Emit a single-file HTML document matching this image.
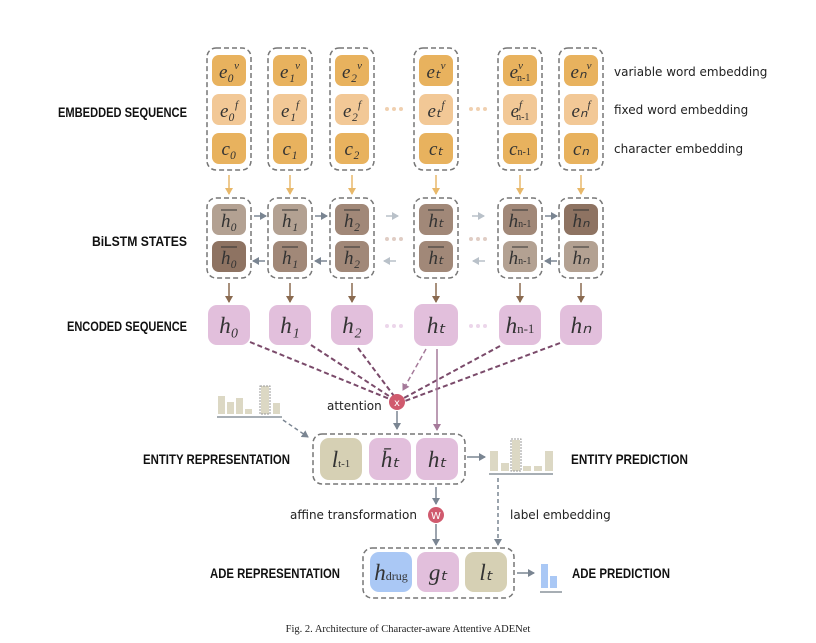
<!DOCTYPE html><html><head><style>body{margin:0;background:#fff}svg{display:block}
.lb{font-family:"Liberation Sans Narrow","Liberation Sans",sans-serif;font-weight:bold;font-size:14px;fill:#111}
.m{font-family:"Liberation Serif",serif;font-style:italic;font-size:19px;fill:#333}
.s{font-family:"DejaVu Sans","Liberation Sans",sans-serif;font-size:12px;fill:#222}
</style></head><body>
<svg width="816" height="643" viewBox="0 0 816 643" xmlns="http://www.w3.org/2000/svg">
<defs>
<marker id="ay" markerWidth="8" markerHeight="8" refX="6" refY="4" orient="auto" markerUnits="userSpaceOnUse"><path d="M0,0L7,4L0,8z" fill="#e8b86a"/></marker>
<marker id="ab" markerWidth="8" markerHeight="8" refX="6" refY="4" orient="auto" markerUnits="userSpaceOnUse"><path d="M0,0L7,4L0,8z" fill="#8a6a50"/></marker>
<marker id="ag" markerWidth="8" markerHeight="8" refX="6" refY="4" orient="auto" markerUnits="userSpaceOnUse"><path d="M0,0L7,4L0,8z" fill="#7a8592"/></marker>
<marker id="al" markerWidth="8" markerHeight="8" refX="6" refY="4" orient="auto" markerUnits="userSpaceOnUse"><path d="M0,0L7,4L0,8z" fill="#b9c1c9"/></marker>
<marker id="ap" markerWidth="8" markerHeight="8" refX="6" refY="4" orient="auto" markerUnits="userSpaceOnUse"><path d="M0,0L7,4L0,8z" fill="#a57a9a"/></marker>
</defs>
<g class="lb">
<text x="58" y="117" textLength="129" lengthAdjust="spacingAndGlyphs">EMBEDDED SEQUENCE</text>
<text x="92" y="246" textLength="95" lengthAdjust="spacingAndGlyphs">BiLSTM STATES</text>
<text x="67" y="331" textLength="120" lengthAdjust="spacingAndGlyphs">ENCODED SEQUENCE</text>
<text x="143" y="464" textLength="147" lengthAdjust="spacingAndGlyphs">ENTITY REPRESENTATION</text>
<text x="210" y="578" textLength="130" lengthAdjust="spacingAndGlyphs">ADE REPRESENTATION</text>
<text x="571" y="464" textLength="117" lengthAdjust="spacingAndGlyphs">ENTITY PREDICTION</text>
<text x="572" y="578" textLength="98" lengthAdjust="spacingAndGlyphs">ADE PREDICTION</text>
</g>
<g class="s"><text x="614" y="76">variable word embedding</text><text x="614" y="114">fixed word embedding</text><text x="614" y="153">character embedding</text></g>

<g fill="none" stroke="#777" stroke-width="1.5" stroke-dasharray="5,3">
<rect x="207" y="48" width="44" height="122" rx="9"/><rect x="268" y="48" width="44" height="122" rx="9"/><rect x="330" y="48" width="44" height="122" rx="9"/><rect x="414" y="48" width="44" height="122" rx="9"/><rect x="498" y="48" width="44" height="122" rx="9"/><rect x="559" y="48" width="44" height="122" rx="9"/>
<rect x="207" y="198" width="44" height="80" rx="9"/><rect x="268" y="198" width="44" height="80" rx="9"/><rect x="330" y="198" width="44" height="80" rx="9"/><rect x="414" y="198" width="44" height="80" rx="9"/><rect x="498" y="198" width="44" height="80" rx="9"/><rect x="559" y="198" width="44" height="80" rx="9"/>
<rect x="313" y="434" width="152" height="50" rx="9"/><rect x="363" y="548" width="151" height="50" rx="9"/>
</g>
<g>
<g fill="#e8b25e"><rect x="212" y="55" width="34" height="31" rx="7"/><rect x="273" y="55" width="34" height="31" rx="7"/><rect x="335" y="55" width="34" height="31" rx="7"/><rect x="419" y="55" width="34" height="31" rx="7"/><rect x="503" y="55" width="34" height="31" rx="7"/><rect x="564" y="55" width="34" height="31" rx="7"/>
<rect x="212" y="133" width="34" height="31" rx="7"/><rect x="273" y="133" width="34" height="31" rx="7"/><rect x="335" y="133" width="34" height="31" rx="7"/><rect x="419" y="133" width="34" height="31" rx="7"/><rect x="503" y="133" width="34" height="31" rx="7"/><rect x="564" y="133" width="34" height="31" rx="7"/></g>
<g fill="#f2c896"><rect x="212" y="94" width="34" height="31" rx="7"/><rect x="273" y="94" width="34" height="31" rx="7"/><rect x="335" y="94" width="34" height="31" rx="7"/><rect x="419" y="94" width="34" height="31" rx="7"/><rect x="503" y="94" width="34" height="31" rx="7"/><rect x="564" y="94" width="34" height="31" rx="7"/></g>
<rect x="212" y="204" width="34" height="31" rx="7" fill="#b3a192"/><rect x="273" y="204" width="34" height="31" rx="7" fill="#b3a192"/><rect x="335" y="204" width="34" height="31" rx="7" fill="#a18878"/><rect x="419" y="204" width="34" height="31" rx="7" fill="#a18878"/><rect x="503" y="204" width="34" height="31" rx="7" fill="#a18878"/><rect x="564" y="204" width="34" height="31" rx="7" fill="#8e7362"/>
<rect x="212" y="241" width="34" height="31" rx="7" fill="#8e7362"/><rect x="273" y="241" width="34" height="31" rx="7" fill="#a18878"/><rect x="335" y="241" width="34" height="31" rx="7" fill="#a18878"/><rect x="419" y="241" width="34" height="31" rx="7" fill="#a18878"/><rect x="503" y="241" width="34" height="31" rx="7" fill="#b3a192"/><rect x="564" y="241" width="34" height="31" rx="7" fill="#b3a192"/>
<g fill="#e2bfdc"><rect x="208" y="305" width="42" height="40" rx="9"/><rect x="269" y="305" width="42" height="40" rx="9"/><rect x="331" y="305" width="42" height="40" rx="9"/><rect x="414" y="304" width="44" height="42" rx="9"/><rect x="499" y="305" width="42" height="40" rx="9"/><rect x="560" y="305" width="42" height="40" rx="9"/>
<rect x="369" y="438" width="42" height="42" rx="9"/><rect x="416" y="438" width="42" height="42" rx="9"/><rect x="417" y="552" width="42" height="40" rx="9"/></g>
<rect x="320" y="438" width="42" height="42" rx="9" fill="#d6d0b4"/><rect x="465" y="552" width="42" height="40" rx="9" fill="#d6d0b4"/><rect x="370" y="552" width="42" height="40" rx="9" fill="#aac8f5"/>
</g>
<g class="m" text-anchor="middle">
<text x="229" y="78">e₀<tspan font-size="11" dy="-9">v</tspan></text><text x="290" y="78">e₁<tspan font-size="11" dy="-9">v</tspan></text><text x="352" y="78">e₂<tspan font-size="11" dy="-9">v</tspan></text><text x="436" y="78">eₜ<tspan font-size="11" dy="-9">v</tspan></text><text x="520" y="78">e<tspan font-size="11" dy="-9">v</tspan><tspan font-size="10" font-style="normal" dy="12" dx="-6">n-1</tspan></text><text x="581" y="78">eₙ<tspan font-size="11" dy="-9">v</tspan></text>
<text x="229" y="117">e₀<tspan font-size="11" dy="-9">f</tspan></text><text x="290" y="117">e₁<tspan font-size="11" dy="-9">f</tspan></text><text x="352" y="117">e₂<tspan font-size="11" dy="-9">f</tspan></text><text x="436" y="117">eₜ<tspan font-size="11" dy="-9">f</tspan></text><text x="520" y="117">e<tspan font-size="11" dy="-9">f</tspan><tspan font-size="10" font-style="normal" dy="12" dx="-6">n-1</tspan></text><text x="581" y="117">eₙ<tspan font-size="11" dy="-9">f</tspan></text>
<text x="229" y="155">c₀</text><text x="290" y="155">c₁</text><text x="352" y="155">c₂</text><text x="436" y="155">cₜ</text><text x="520" y="155">c<tspan font-size="10" font-style="normal">n-1</tspan></text><text x="581" y="155">cₙ</text>
<text x="229" y="227">h₀</text><text x="290" y="227">h₁</text><text x="352" y="227">h₂</text><text x="436" y="227">hₜ</text><text x="520" y="227">h<tspan font-size="10" font-style="normal">n-1</tspan></text><text x="581" y="227">hₙ</text>
<text x="229" y="264">h₀</text><text x="290" y="264">h₁</text><text x="352" y="264">h₂</text><text x="436" y="264">hₜ</text><text x="520" y="264">h<tspan font-size="10" font-style="normal">n-1</tspan></text><text x="581" y="264">hₙ</text>
<g font-size="23"><text x="229" y="333">h₀</text><text x="290" y="333">h₁</text><text x="352" y="333">h₂</text><text x="436" y="333">hₜ</text><text x="520" y="333">h<tspan font-size="13" font-style="normal">n-1</tspan></text><text x="581" y="333">hₙ</text>
<text x="341" y="467">l<tspan font-size="11" font-style="normal">t-1</tspan></text><text x="390" y="467">h̄ₜ</text><text x="437" y="467">hₜ</text>
<text x="391" y="580">h<tspan font-size="12" font-style="normal">drug</tspan></text><text x="438" y="580">gₜ</text><text x="486" y="580">lₜ</text></g>
</g>
<g stroke="#333" stroke-width="1"><path d="M221,210h16M282,210h16M344,210h16M428,210h16M512,210h16M573,210h16M221,247h16M282,247h16M344,247h16M428,247h16M512,247h16M573,247h16"/></g>
<g fill="#f0d0b0"><circle cx="387" cy="109" r="2"/><circle cx="394" cy="109" r="2"/><circle cx="401" cy="109" r="2"/><circle cx="471" cy="109" r="2"/><circle cx="478" cy="109" r="2"/><circle cx="485" cy="109" r="2"/></g>
<g fill="#e0cdc4"><circle cx="387" cy="239" r="2"/><circle cx="394" cy="239" r="2"/><circle cx="401" cy="239" r="2"/><circle cx="471" cy="239" r="2"/><circle cx="478" cy="239" r="2"/><circle cx="485" cy="239" r="2"/></g>
<g fill="#ecd6ea"><circle cx="387" cy="326" r="2"/><circle cx="394" cy="326" r="2"/><circle cx="401" cy="326" r="2"/><circle cx="471" cy="326" r="2"/><circle cx="478" cy="326" r="2"/><circle cx="485" cy="326" r="2"/></g>
<g stroke="#e8b86a" stroke-width="1.5" marker-end="url(#ay)"><path d="M229,175v19"/><path d="M290,175v19"/><path d="M352,175v19"/><path d="M436,175v19"/><path d="M520,175v19"/><path d="M581,175v19"/></g>
<g stroke="#8a6a50" stroke-width="1.5" marker-end="url(#ab)"><path d="M229,283v19"/><path d="M290,283v19"/><path d="M352,283v19"/><path d="M436,283v19"/><path d="M520,283v19"/><path d="M581,283v19"/></g>
<g stroke="#7a8592" stroke-width="1.5" marker-end="url(#ag)"><path d="M254,216h12"/><path d="M315,216h12"/><path d="M545,216h12"/><path d="M265,261h-12"/><path d="M327,261h-12"/><path d="M557,261h-12"/><path d="M397,411v18"/><path d="M436,487v17"/><path d="M436,524v21"/><path d="M467,457h18"/><path d="M517,573h17"/></g>
<g stroke="#b9c1c9" stroke-width="1.5" marker-end="url(#al)"><path d="M386,216h12"/><path d="M472,216h12"/><path d="M396,261h-12"/><path d="M485,261h-12"/></g>
<g stroke="#7a8592" stroke-width="1.5" fill="none" stroke-dasharray="4,3" marker-end="url(#ag)"><path d="M283,420L308,437"/><path d="M498,478V545"/></g>
<g stroke="#7a4a6a" stroke-width="2" stroke-dasharray="5,3" fill="none"><path d="M250,342L392,400"/><path d="M311,345L392,398"/><path d="M358,348L394,396"/><path d="M500,346L404,398"/><path d="M560,343L405,401"/></g>
<path d="M426,349L403,390" stroke="#a57a9a" stroke-width="1.5" stroke-dasharray="5,3" marker-end="url(#ap)"/>
<path d="M437,349V430" stroke="#a57a9a" stroke-width="1.5" marker-end="url(#ap)"/>
<circle cx="397" cy="402" r="8" fill="#d05a6e"/><text x="397" y="406" text-anchor="middle" font-family="DejaVu Sans" font-size="10" fill="#fff">x</text>
<circle cx="436" cy="515" r="8" fill="#d05a6e"/><text x="436" y="519" text-anchor="middle" font-family="DejaVu Sans" font-size="10" fill="#fff">W</text>
<g class="s"><text x="327" y="410">attention</text><text x="290" y="519">affine transformation</text><text x="510" y="519">label embedding</text></g>
<g fill="#dcd8c4"><rect x="218" y="396" width="7" height="18"/><rect x="227" y="402" width="7" height="12"/><rect x="236" y="398" width="7" height="16"/><rect x="245" y="409" width="7" height="5"/><rect x="261" y="386" width="8" height="28"/><rect x="273" y="403" width="7" height="11"/>
<rect x="490" y="451" width="8" height="20"/><rect x="501" y="463" width="8" height="8"/><rect x="512" y="440" width="8" height="31"/><rect x="523" y="466" width="8" height="5"/><rect x="534" y="466" width="8" height="5"/><rect x="545" y="451" width="8" height="20"/></g>
<rect x="260" y="386" width="10" height="28" fill="none" stroke="#999" stroke-dasharray="2,1"/><rect x="511" y="439" width="10" height="32" fill="none" stroke="#999" stroke-dasharray="2,1"/>
<path d="M217,417h65M489,474h64M540,592h22" stroke="#8a939c" stroke-width="1.5"/>
<g fill="#aac8f5"><rect x="541" y="564" width="7" height="24"/><rect x="550" y="576" width="7" height="12"/></g>
<text x="408" y="632" text-anchor="middle" font-family="Liberation Serif" font-size="10.5" fill="#222">Fig. 2.    Architecture of Character-aware Attentive ADENet</text>
</svg></body></html>
